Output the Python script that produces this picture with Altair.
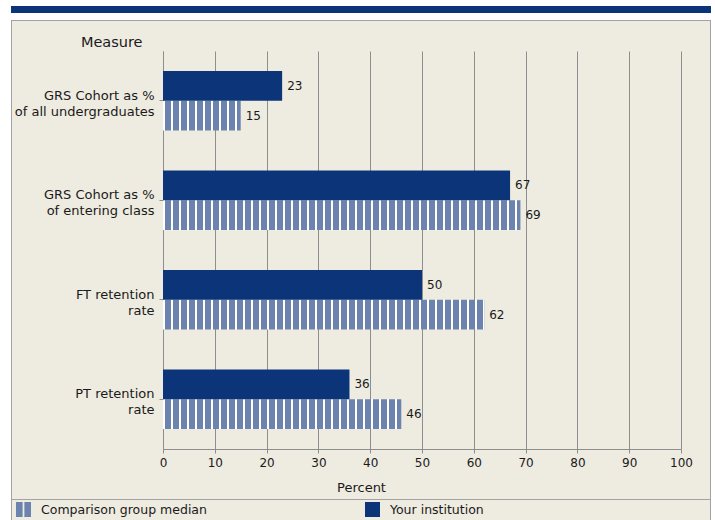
import altair as alt
import pandas as pd

# Measures (top to bottom) and the two series
measures = [
    "GRS Cohort as %\nof all undergraduates",
    "GRS Cohort as %\nof entering class",
    "FT retention\nrate",
    "PT retention\nrate",
]
your_institution = [23, 67, 50, 36]
comparison_median = [15, 69, 62, 46]

YOURS = "Your institution"
COMP = "Comparison group median"
series_order = [YOURS, COMP]

x_ticks = [0, 10, 20, 30, 40, 50, 60, 70, 80, 90, 100]

# Colours and sizes
BG = "#EEEBE0"
NAVY = "#0B3479"
STRIPE = "#6B83AD"
GRID = "#8E8E8E"
FRAME = "#A3A3A3"
TEXT = "#1A1A1A"
FONT = "DejaVu Sans"

W, H = 518, 398
PAD = {"left": 163, "top": 51, "right": 34, "bottom": 71}
PX_PER_UNIT = W / 100.0

rows = []
for m, a, b in zip(measures, your_institution, comparison_median):
    rows.append({"measure": m, "series": YOURS, "value": a})
    rows.append({"measure": m, "series": COMP, "value": b})
df = pd.DataFrame(rows)

y_enc = alt.Y(
    "measure:N",
    sort=measures,
    scale=alt.Scale(paddingInner=0.4, paddingOuter=0.2),
    axis=alt.Axis(
        title="Measure",
        titleAngle=0,
        titleAlign="right",
        titleBaseline="middle",
        titleX=-21,
        titleY=-9,
        titleFont=FONT,
        titleFontSize=14.5,
        titleFontWeight="normal",
        titleColor=TEXT,
        labelExpr="split(datum.label, '\\n')",
        labelFont=FONT,
        labelFontSize=13,
        labelColor=TEXT,
        labelLineHeight=16,
        labelOffset=-5,
        labelPadding=5,
        labelLimit=200,
        tickSize=4,
        tickColor=GRID,
        domainColor=GRID,
        grid=False,
    ),
)
x_enc = alt.X(
    "value:Q",
    scale=alt.Scale(domain=[0, 100], nice=False),
    axis=alt.Axis(
        values=x_ticks,
        title="Percent",
        titleX=198,
        titleY=38,
        titleBaseline="middle",
        titleFont=FONT,
        titleFontSize=13,
        titleFontWeight="normal",
        titleColor=TEXT,
        labelFont=FONT,
        labelFontSize=12,
        labelColor=TEXT,
        labelPadding=4,
        labelFlush=False,
        tickSize=4,
        tickColor=GRID,
        domainColor=GRID,
        grid=True,
        gridColor=GRID,
    ),
)
yoff_enc = alt.YOffset(
    "series:N", scale=alt.Scale(domain=series_order, paddingInner=0, paddingOuter=0)
)

base = alt.Chart(df).encode(x=x_enc, y=y_enc, yOffset=yoff_enc)

# Legend swatches: two thin bars for the striped series, a square otherwise
SWATCH_EXPR = (
    "datum.value === '" + COMP + "' ? "
    "'M-1,-1H-0.12V1H-1Z M0.12,-1H1V1H0.12Z' : 'square'"
)
legend = alt.Legend(
    title=None,
    orient="none",
    legendX=-147,
    legendY=451,
    direction="horizontal",
    columns=2,
    columnPadding=158,
    padding=0,
    symbolSize=225,
    symbolStrokeWidth=0,
    symbolOpacity=1,
    symbolType={"expr": SWATCH_EXPR},
    labelOffset=10,
    labelLimit=400,
    labelFont=FONT,
    labelFontSize=12.5,
    labelColor=TEXT,
)
your_bars = base.transform_filter(alt.datum.series == YOURS).mark_bar().encode(
    color=alt.Color(
        "series:N",
        scale=alt.Scale(domain=[COMP, YOURS], range=[STRIPE, NAVY]),
        legend=legend,
    )
)


def stripe_fill(value):
    """Vertical stripes (2px white, 6px blue) as a hard-stop gradient."""
    width = value * PX_PER_UNIT
    stops = []
    pos = 0.0
    while pos < width:
        a = pos / width
        b = min(pos + 2, width) / width
        c = min(pos + 8, width) / width
        stops += [
            alt.GradientStop(color="#FFFFFF", offset=a),
            alt.GradientStop(color="#FFFFFF", offset=b),
            alt.GradientStop(color=STRIPE, offset=b),
            alt.GradientStop(color=STRIPE, offset=c),
        ]
        pos += 8
    return alt.LinearGradient(gradient="linear", stops=stops, x1=0, x2=1, y1=0, y2=0)


comp_layers = [
    base.transform_filter(
        (alt.datum.series == COMP) & (alt.datum.measure == m)
    ).mark_bar(fill=stripe_fill(v))
    for m, v in zip(measures, comparison_median)
]

labels = base.mark_text(
    align="left", baseline="middle", dx=5, font=FONT, fontSize=12, color=TEXT
).encode(text="value:Q")

# Page furniture around the panel
one = pd.DataFrame({"k": [0]})


def rect(x, x2, y, y2, color):
    return alt.Chart(one).mark_rect(color=color).encode(
        x=alt.value(x), x2=alt.value(x2), y=alt.value(y), y2=alt.value(y2)
    )


def hline(x, x2, y, color):
    return alt.Chart(one).mark_rule(color=color, strokeWidth=1).encode(
        x=alt.value(x), x2=alt.value(x2), y=alt.value(y)
    )


def vline(x, y, y2, color):
    return alt.Chart(one).mark_rule(color=color, strokeWidth=1).encode(
        x=alt.value(x), y=alt.value(y), y2=alt.value(y2)
    )


L, T = PAD["left"], PAD["top"]
furniture = [
    rect(-L, 11 - L, -T, 520 - T, "#FFFFFF"),
    rect(-L, 715 - L, -T, 20 - T, "#FFFFFF"),
    rect(710 - L, 715 - L, -T, 520 - T, "#FFFFFF"),
    rect(11 - L, 711 - L, 6 - T, 13 - T, NAVY),
    hline(11 - L, 711 - L, 20.5 - T, FRAME),
    vline(11.5 - L, 20 - T, 520 - T, FRAME),
    vline(710.5 - L, 20 - T, 520 - T, FRAME),
    hline(11 - L, 710 - L, 499.5 - T, FRAME),
]

chart = alt.layer(*furniture, *comp_layers, your_bars, labels).properties(
    width=W,
    height=H,
    background=BG,
    padding=PAD,
    autosize=alt.AutoSizeParams(type="none"),
).configure_view(stroke=None)

chart.save("out.html", embed_options={"renderer": "svg", "actions": False})
